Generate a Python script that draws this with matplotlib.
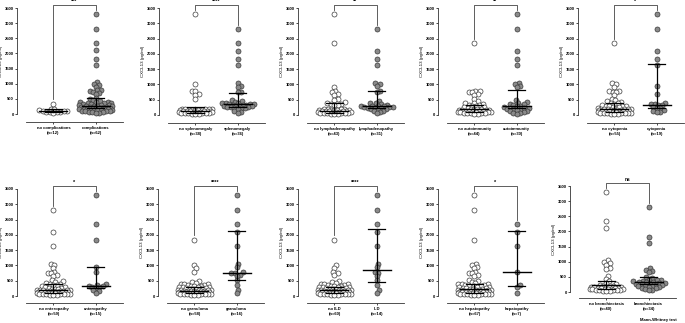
import numpy as np
import matplotlib.pyplot as plt

plt.rcParams['font.family'] = ['Liberation Sans', 'DejaVu Sans']
plt.rcParams['font.weight'] = 'bold'

# CXCL13 (pg/ml) of the 74 patients
cxcl13 = [3300, 2800, 2350, 2100, 1830, 1620, 1050, 1000, 950, 900, 800, 780, 750, 740, 700, 650, 520,
          480, 450, 420, 400, 390, 380, 370, 360, 350, 340, 330, 320, 310, 300, 290, 280, 270, 260,
          250, 240, 230, 220, 210, 200, 195, 190, 185, 180, 175, 170, 165, 160, 155, 150, 145, 140,
          135, 130, 125, 120, 115, 110, 105, 100, 95, 90, 85, 80, 75, 70, 65, 60, 55, 50, 45, 40, 35]

# which patients fall in the "condition" group of each panel
idx_no_complications = [27, 44, 50, 54, 58, 60, 62, 64, 66, 68, 70, 72]
idx_splenomegaly = [1, 2, 3, 4, 5, 6, 8, 9, 12, 13, 17, 18, 19, 20, 21, 22, 23, 24, 25, 26, 27, 28, 29,
                    30, 31, 32, 33, 34, 35, 36, 37, 38, 39, 57, 62, 67]
idx_lymphadenopathy = [1, 3, 4, 5, 6, 7, 8, 11, 12, 18, 20, 22, 25, 27, 29, 30, 31, 32, 33, 34, 35, 36,
                       37, 38, 40, 43, 47, 52, 57, 63, 69]
idx_autoimmunity = [0, 1, 3, 4, 5, 6, 7, 8, 9, 17, 19, 21, 23, 25, 28, 30, 32, 34, 36, 38, 39, 41, 45,
                    48, 51, 55, 59, 64, 68, 71]
idx_cytopenia = [0, 1, 3, 4, 5, 8, 14, 22, 24, 25, 26, 27, 35, 36, 37, 50, 54, 58, 62]
idx_enteropathy = [0, 2, 4, 8, 11, 22, 23, 26, 27, 29, 31, 34, 44, 50, 58]
idx_granuloma = [0, 1, 2, 3, 5, 6, 8, 11, 12, 13, 14, 15, 16, 25, 40, 60]
idx_ild = [0, 1, 2, 3, 5, 6, 8, 11, 12, 15, 16, 25, 44, 60]
idx_hepatopathy = [2, 3, 5, 11, 25, 30, 60]
idx_bronchiectasis = [1, 4, 5, 11, 13, 14, 15, 17, 18, 20, 21, 22, 24, 25, 26, 27, 28, 29, 31, 32, 33,
                      35, 36, 38, 39, 41, 43, 46, 49, 53, 56, 61, 65, 69]

labels_no = ['no complications\n(n=12)', 'no splenomegaly\n(n=38)', 'no lymphadenopathy\n(n=43)',
             'no autoimmunity\n(n=44)', 'no cytopenia\n(n=55)', 'no enteropathy\n(n=59)',
             'no granuloma\n(n=58)', 'no ILD\n(n=60)', 'no hepatopathy\n(n=67)', 'no bronchiectasis\n(n=40)']
labels_yes = ['complications\n(n=62)', 'splenomegaly\n(n=36)', 'lymphadenopathy\n(n=31)',
              'autoimmunity\n(n=30)', 'cytopenia\n(n=19)', 'enteropathy\n(n=15)', 'granuloma\n(n=16)',
              'ILD\n(n=14)', 'hepatopathy\n(n=7)', 'bronchiectasis\n(n=34)']
signif = ['***', '****', '**', '**', '*', '*', '****', '****', '*', 'ns']

# median / interquartile range as drawn in the figure: (no group, condition group)
median_no = [110, 130, 130, 180, 190, 185, 150, 185, 220, 220]
q1_no = [70, 80, 80, 100, 100, 100, 90, 100, 110, 110]
q3_no = [150, 260, 380, 330, 380, 380, 300, 300, 380, 370]
median_yes = [275, 350, 300, 300, 330, 330, 760, 860, 790, 330]
q1_yes = [200, 260, 220, 220, 240, 260, 510, 460, 320, 255]
q3_yes = [530, 730, 770, 820, 1670, 950, 2130, 2180, 2130, 480]

groups = [(idx_no_complications, 'no'), (idx_splenomegaly, 'yes'), (idx_lymphadenopathy, 'yes'),
          (idx_autoimmunity, 'yes'), (idx_cytopenia, 'yes'), (idx_enteropathy, 'yes'),
          (idx_granuloma, 'yes'), (idx_ild, 'yes'), (idx_hepatopathy, 'yes'), (idx_bronchiectasis, 'yes')]

W, H = 685, 323
fig = plt.figure(figsize=(W / 100, H / 100), dpi=100)

# panel geometry in pixels: left, y of 3500, y of 0, x-axis offset
geom = [(26, 8, 114, 8), (168, 8, 115, 8), (307, 8, 115, 8), (447, 8, 115, 8), (587, 8, 115, 8),
        (26, 189, 296, 7), (167, 189, 296, 7), (307, 189, 296, 7), (447, 189, 296, 7),
        (579, 186, 292, 6)]
AX_W = 97
XMIN, XMAX = -0.65, 1.65


def swarm(vals, ppx, ppy, d=3.4, maxw=17):
    cands = [0.0]
    for k in np.arange(0.5, maxw, 0.5):
        cands += [k, -k]
    xs = np.zeros(len(vals))
    placed = []
    for i in np.argsort(vals):
        y = vals[i] * ppy
        best, best_d = 0.0, -1
        for c in cands:
            md = min([np.hypot(c - px, y - py) for px, py in placed] or [99])
            if md >= d:
                best = c
                break
            if md > best_d:
                best, best_d = c, md
        placed.append((best, y))
        xs[i] = best / ppx
    return xs


vals_all = np.array(cxcl13, dtype=float)
for p in range(10):
    left, ytop, yzero, xoff = geom[p]
    ax = fig.add_axes([left / W, (H - yzero) / H, AX_W / W, (yzero - ytop) / H])
    ax.set_xlim(XMIN, XMAX)
    ax.set_ylim(0, 3500)
    ppx = AX_W / (XMAX - XMIN)
    ppy = (yzero - ytop) / 3500

    idx, side = groups[p]
    mask = np.zeros(len(vals_all), bool)
    mask[idx] = True
    if side == 'no':
        mask = ~mask
    v_no = vals_all[~mask]
    v_yes = vals_all[mask]

    x_no = swarm(v_no, ppx, ppy)
    x_yes = swarm(v_yes, ppx, ppy)
    ax.scatter(x_no, v_no, s=13, facecolor='white', edgecolor='#3a3a3a', linewidth=0.5,
               clip_on=False, zorder=2)
    ax.scatter(1 + x_yes, v_yes, s=13, facecolor='#8a8a8a', edgecolor='#3a3a3a', linewidth=0.5,
               clip_on=False, zorder=2)

    for xc, med, lo, hi in [(0, median_no[p], q1_no[p], q3_no[p]),
                            (1, median_yes[p], q1_yes[p], q3_yes[p])]:
        ax.plot([xc - 0.33, xc + 0.33], [med, med], color='black', lw=1.0, zorder=3, clip_on=False)
        ax.plot([xc, xc], [lo, hi], color='black', lw=0.9, zorder=3)
        for q in (lo, hi):
            ax.plot([xc - 0.2, xc + 0.2], [q, q], color='black', lw=0.9, zorder=3)

    # significance bracket
    yb = 3600
    leg_no = v_no.max() + 150
    leg_yes = v_yes.max() + 150
    ax.plot([0, 0, 1, 1], [leg_no, yb, yb, leg_yes], color='#444444', lw=0.6, clip_on=False)
    ax.text(0.5, yb + 20, signif[p], ha='center', va='bottom', fontsize=4 if signif[p] != 'ns' else 3.5,
            clip_on=False)

    for s in ['top', 'right']:
        ax.spines[s].set_visible(False)
    ax.spines['left'].set_position(('outward', 6.5))
    ax.spines['left'].set_bounds(0, 3500)
    ax.spines['bottom'].set_position(('outward', xoff * 0.72))
    for s in ['left', 'bottom']:
        ax.spines[s].set_linewidth(0.6)
        ax.spines[s].set_color('#333333')
    ax.set_yticks(np.arange(0, 3501, 500))
    ax.set_xticks([0, 1])
    ax.set_xticklabels([labels_no[p], labels_yes[p]], fontsize=3, linespacing=1.1)
    ax.tick_params(axis='y', labelsize=3, length=1.6, width=0.5, pad=0.8)
    ax.tick_params(axis='x', length=1.6, width=0.5, pad=1.5)
    ax.set_ylabel('CXCL13 (pg/ml)', fontsize=3.2, labelpad=1)

fig.text(677 / W, 1 - 320 / H, 'Mann-Whitney test', ha='right', va='center', fontsize=3)

fig.savefig('out.png', dpi=100)
